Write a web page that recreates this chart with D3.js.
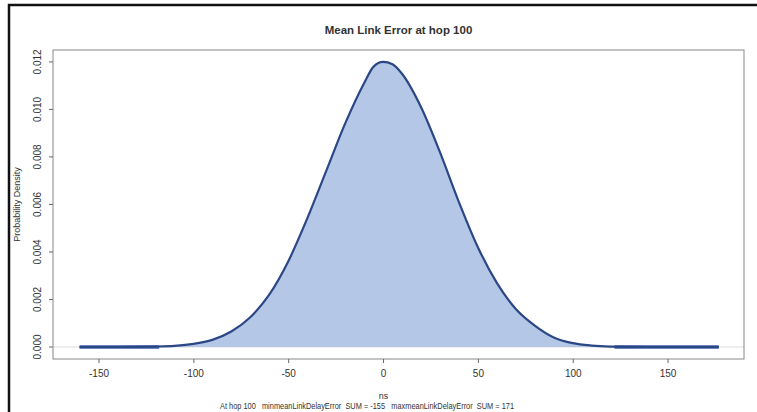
<!DOCTYPE html>
<html>
<head>
<meta charset="utf-8">
<script src="https://cdn.jsdelivr.net/npm/d3@7"></script>
<style>
  html, body { margin: 0; background: #fff; overflow: hidden; }
  svg { display: block; }
  text { font-family: "Liberation Sans", Arial, sans-serif; fill: #333; }
</style>
</head>
<body>
<div id="canvas"></div>
<script>
// Datos (ns, densidad)
const xs = [-160, -140, -120, -110, -100, -90, -80, -70, -60, -50, -40, -30, -20, -10, -5, 0, 5, 10, 20, 30, 40, 50, 60, 70, 80, 90, 100, 110, 120, 140, 177];
const dens = [0, 0, 0.00002, 0.00005, 0.00013, 0.0003, 0.00065, 0.00125, 0.0022, 0.0036, 0.0054, 0.0074, 0.0094, 0.0111, 0.0118, 0.0120, 0.0119, 0.0115, 0.0101, 0.0082, 0.0061, 0.0042, 0.0027, 0.0016, 0.0009, 0.0004, 0.00016, 0.00006, 0.00002, 0, 0];
const leftTail = [-160, -118];
const rightTail = [122, 177];
const xTicks = [-150, -100, -50, 0, 50, 100, 150];
const yTicks = [0, 0.002, 0.004, 0.006, 0.008, 0.010, 0.012];

const width = 757;
const height = 412;
const margin = {top: 50, left: 53, bottom: 53, right: 13};
const iwidth = width - margin.left - margin.right;
const iheight = height - margin.top - margin.bottom;

const svg = d3.select("#canvas").append("svg")
    .attr("width", width)
    .attr("height", height);

// marco negro exterior
svg.append("rect")
    .attr("x", 9).attr("y", 5)
    .attr("width", 770).attr("height", 430)
    .attr("fill", "none")
    .attr("stroke", "#111")
    .attr("stroke-width", 2.5);

const g = svg.append("g").attr("transform", `translate(${margin.left}, ${margin.top})`);

const x = d3.scaleLinear().domain([-174, 190.3]).range([0, iwidth]);
const y = d3.scaleLinear().domain([-0.000505, 0.0125]).range([iheight, 0]);

const pts = xs.map((v, i) => ({x: v, y: dens[i]}));

// linea en cero
g.append("line")
    .attr("x1", 0).attr("x2", iwidth)
    .attr("y1", y(0)).attr("y2", y(0))
    .attr("stroke", "#ddd")
    .attr("stroke-width", 1);

// area
g.append("path")
    .datum(pts)
    .attr("fill", "#b4c7e7")
    .attr("d", d3.area().x(d => x(d.x)).y0(y(0)).y1(d => y(d.y)).curve(d3.curveMonotoneX));

// colas
[leftTail, rightTail].forEach(t => {
    g.append("line")
        .attr("x1", x(t[0])).attr("x2", x(t[1]))
        .attr("y1", y(0)).attr("y2", y(0))
        .attr("stroke", "#3d60a9")
        .attr("stroke-width", 3.5);
});

// curva
g.append("path")
    .datum(pts)
    .attr("fill", "none")
    .attr("stroke", "#2b4785")
    .attr("stroke-width", 2.2)
    .attr("d", d3.line().x(d => x(d.x)).y(d => y(d.y)).curve(d3.curveMonotoneX));

// caja
g.append("rect")
    .attr("width", iwidth).attr("height", iheight)
    .attr("fill", "none")
    .attr("stroke", "#888")
    .attr("stroke-width", 1);

// eje x
const xa = g.append("g")
    .attr("transform", `translate(0, ${iheight})`)
    .call(d3.axisBottom(x).tickValues(xTicks).tickSize(4).tickPadding(7).tickFormat(d => d));
xa.select(".domain").remove();
xa.selectAll("line").attr("stroke", "#666");
xa.selectAll("text").style("font-size", "10px").attr("fill", "#333");

// eje y
const ya = g.append("g")
    .call(d3.axisLeft(y).tickValues(yTicks).tickSize(4).tickFormat(d3.format(".3f")));
ya.select(".domain").remove();
ya.selectAll("line").attr("stroke", "#666");
ya.selectAll("text")
    .style("font-size", "10px")
    .attr("fill", "#333")
    .attr("text-anchor", "middle")
    .attr("x", 0).attr("dy", 0)
    .attr("transform", d => `translate(-12, ${y(d)}) rotate(-90)`)
    .attr("y", 0);
ya.selectAll(".tick").attr("transform", null);
ya.selectAll(".tick line").attr("transform", d => `translate(0, ${y(d)})`);

// titulo
svg.append("text")
    .attr("x", margin.left + iwidth / 2)
    .attr("y", 34)
    .attr("text-anchor", "middle")
    .style("font-size", "11.5px")
    .style("font-weight", "bold")
    .text("Mean Link Error at hop 100");

// etiqueta y
svg.append("text")
    .attr("transform", `translate(20, ${margin.top + iheight / 2}) rotate(-90)`)
    .attr("text-anchor", "middle")
    .style("font-size", "9px")
    .text("Probability Density");

// etiqueta x
svg.append("text")
    .attr("x", margin.left + iwidth / 2 - 15)
    .attr("y", 399)
    .attr("text-anchor", "middle")
    .style("font-size", "9px")
    .text("ns");

svg.append("text")
    .attr("x", 367)
    .attr("y", 409)
    .attr("text-anchor", "middle")
    .attr("textLength", 294)
    .attr("lengthAdjust", "spacingAndGlyphs")
    .style("font-size", "9px")
    .style("white-space", "pre")
    .text("At hop 100   minmeanLinkDelayError  SUM = -155   maxmeanLinkDelayError  SUM = 171");
</script>
</body>
</html>
